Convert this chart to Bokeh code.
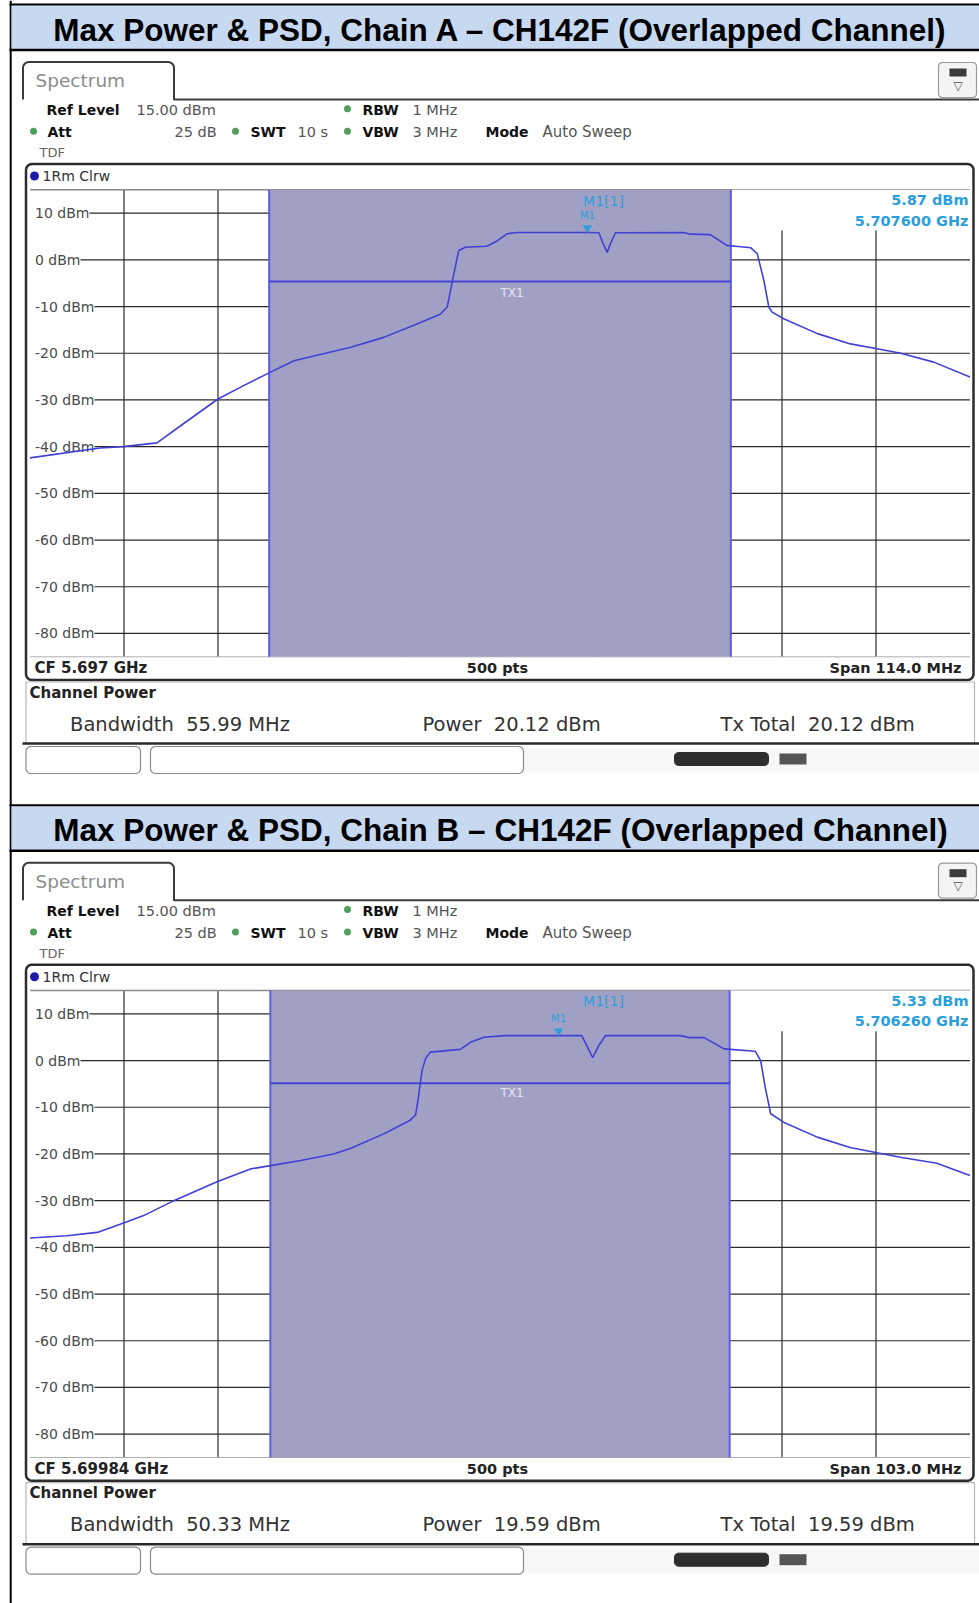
import numpy as np
from bokeh.plotting import figure
from bokeh.models import Range1d
from bokeh.core.properties import value
from bokeh.embed import file_html
from bokeh.resources import INLINE

# ---------------- data ----------------
TITLES = ["Max Power & PSD, Chain A \u2013 CH142F (Overlapped Channel)",
          "Max Power & PSD, Chain B \u2013 CH142F (Overlapped Channel)"]
REF_LEVEL = 15.0
BOTTOM_LEVEL = -85.0
Y_TICKS = [10, 0, -10, -20, -30, -40, -50, -60, -70, -80]
Y_TICK_LABELS = ["10 dBm", "0 dBm", "-10 dBm", "-20 dBm", "-30 dBm",
                 "-40 dBm", "-50 dBm", "-60 dBm", "-70 dBm", "-80 dBm"]
CF_MHZ = [5697.0, 5699.84]
SPAN_MHZ = [114.0, 103.0]
BW_MHZ = [55.99, 50.33]
TX_LEVEL = [-4.65, -4.86]
MARKER_FREQ = [5707.6, 5706.26]
MARKER_LEVEL = [5.87, 5.33]
CF_LABELS = ["CF 5.697 GHz", "CF 5.69984 GHz"]
SPAN_LABELS = ["Span 114.0 MHz", "Span 103.0 MHz"]
MARKER_LEVEL_LABELS = ["5.87 dBm", "5.33 dBm"]
MARKER_FREQ_LABELS = ["5.707600 GHz", "5.706260 GHz"]
BANDWIDTH_LABELS = ["55.99 MHz", "50.33 MHz"]
POWER_LABELS = ["20.12 dBm", "19.59 dBm"]
TOTAL_LABELS = ["20.12 dBm", "19.59 dBm"]

A_FREQ = [5640.0, 5648.5, 5651.3, 5655.4, 5658.6, 5662.8, 5665.5, 5669.0, 5672.0,
          5678.9, 5682.9, 5687.0, 5689.8, 5690.6, 5691.0, 5691.4, 5692.0, 5692.8,
          5695.4, 5696.7, 5697.9, 5699.1, 5707.6, 5709.0, 5709.5, 5710.0, 5710.4,
          5711.0, 5719.3, 5720.1, 5722.5, 5724.5, 5726.2, 5727.4, 5728.2, 5729.0,
          5729.6, 5730.0, 5731.4, 5735.5, 5739.5, 5742.9, 5745.6, 5749.6, 5754.0]
A_LEVEL = [-42.4, -40.3, -40.0, -39.2, -35.1, -29.8, -27.3, -24.2, -21.6,
           -18.7, -16.6, -13.7, -11.6, -10.1, -6.6, -3.0, 2.0, 2.7,
           2.9, 4.1, 5.6, 5.87, 5.87, 5.8, 3.5, 1.6, 3.5,
           5.8, 5.87, 5.5, 5.4, 3.1, 2.8, 2.6, 1.3, -4.4,
           -10.1, -11.2, -12.6, -15.8, -18.0, -19.1, -20.0, -21.9, -25.1]
B_FREQ = [5648.34, 5652.4, 5655.7, 5658.6, 5660.8, 5664.1, 5668.9, 5672.5, 5674.7,
          5678.0, 5681.6, 5683.5, 5687.1, 5690.0, 5690.6, 5690.9, 5691.3, 5691.7,
          5692.2, 5695.5, 5696.6, 5698.1, 5700.3, 5708.8, 5709.4, 5710.0, 5710.6,
          5711.4, 5719.6, 5720.7, 5722.2, 5724.4, 5727.8, 5728.4, 5728.9, 5729.5,
          5730.9, 5734.6, 5738.2, 5741.3, 5743.7, 5747.7, 5751.34]
B_LEVEL = [-38.0, -37.5, -36.8, -34.8, -33.2, -30.0, -25.9, -23.2, -22.5,
           -21.4, -20.0, -18.8, -15.7, -12.8, -11.6, -7.9, -2.1, 0.5,
           1.8, 2.4, 3.9, 5.0, 5.33, 5.33, 3.0, 0.6, 3.0,
           5.33, 5.33, 4.9, 4.9, 2.5, 2.0, 0.0, -5.7, -11.4,
           -13.2, -16.4, -18.6, -19.8, -20.7, -22.0, -24.6]
TRACES = [(A_FREQ, A_LEVEL), (B_FREQ, B_LEVEL)]

# ---------------- layout (reference pixel coordinates) ----------------
W, H = 979, 1603
X0, Y0 = 0, 0
PX_L, PX_R = 29.5, 969.5          # plot area left / right
PY_T, PY_H = 189.3, 467.0         # plot area top / height (panel A)
OFFS = [0.0, 800.7]               # vertical offset of each panel

p = figure(width=W, height=H, x_range=Range1d(X0, X0 + W), y_range=Range1d(Y0 + H, Y0),
           output_backend="svg", toolbar_location=None, min_border=0,
           x_axis_location=None, y_axis_location=None)
p.xgrid.visible = False
p.ygrid.visible = False
p.outline_line_color = None
p.background_fill_color = "white"
p.border_fill_color = "white"

DV = "DejaVu Sans"
NB = "\u00a0"


def txt(x, y, s, size, color="#222222", bold=False, align="left", font=DV, **kw):
    p.text(x=[x], y=[y], text=[s], text_font=value(font), text_font_size=f"{size}px",
           text_color=color, text_font_style="bold" if bold else "normal",
           text_align=align, text_baseline="middle", **kw)


def rr(x0, y0, x1, y1, r, open_bottom=False):
    xs, ys = [], []
    for cx, cy, a0, a1 in [(x0 + r, y0 + r, np.pi, 1.5 * np.pi),
                           (x1 - r, y0 + r, 1.5 * np.pi, 2 * np.pi),
                           (x1 - r, y1 - r, 0, 0.5 * np.pi),
                           (x0 + r, y1 - r, 0.5 * np.pi, np.pi)]:
        t = np.linspace(a0, a1, 8)
        xs += list(cx + r * np.cos(t))
        ys += list(cy + r * np.sin(t))
    if open_bottom:
        xs = [x0] + xs[:16] + [x1]
        ys = [y1] + ys[:16] + [y1]
    else:
        xs.append(xs[0]); ys.append(ys[0])
    return xs, ys


def rbox(x0, y0, x1, y1, r, line="#333333", lw=1.0, fill=None):
    xs, ys = rr(x0, y0, x1, y1, r)
    if fill is not None:
        p.patch(xs, ys, fill_color=fill, line_color=None)
    p.line(xs, ys, line_color=line, line_width=lw)


# page left border
p.segment(x0=[10.2], y0=[0], x1=[10.2], y1=[H], line_color="black", line_width=2)

for i in range(2):
    o = OFFS[i]
    # ---- title bar ----
    p.quad(left=[11], right=[980], top=[5 + o], bottom=[48.5 + o], fill_color="#c6d9f1",
           line_color=None)
    p.segment(x0=[9], y0=[4 + o], x1=[980], y1=[4 + o], line_color="black", line_width=2)
    p.segment(x0=[9], y0=[49.5 + o], x1=[980], y1=[49.5 + o], line_color="black", line_width=2.5)
    txt(500, 29 + o, TITLES[i], 31.5, color="black", bold=True, align="center",
        font="Liberation Sans")

    # ---- tab + header ----
    xs, ys = rr(22.5, 61.5 + o, 173.5, 99 + o, 6, open_bottom=True)
    xs = xs + [980]; ys = ys + [99 + o]
    p.line(xs, ys, line_color="#3a3a3a", line_width=2)
    txt(35, 80 + o, "Spectrum", 18.5, color="#8c8c8c")
    rbox(938, 62 + o, 976, 97 + o, 4, line="#9a9a9a", lw=1.2, fill="#f4f4f4")
    p.quad(left=[949], right=[966], top=[68 + o], bottom=[76 + o], fill_color="#3c3c3c",
           line_color=None)
    txt(957.5, 85 + o, "\u25bd", 12, color="#555555", align="center")

    hy1, hy2, hy3 = 109.3 + o, 131.8 + o, 152.3 + o
    txt(46, hy1, "Ref Level", 14, color="#111111", bold=True)
    txt(136, hy1, "15.00 dBm", 14.5, color="#555555")
    txt(362, hy1, "RBW", 14, color="#111111", bold=True)
    txt(412, hy1, "1 MHz", 14.5, color="#555555")
    txt(47, hy2, "Att", 14, color="#111111", bold=True)
    txt(174, hy2, "25 dB", 14.5, color="#555555")
    txt(250, hy2, "SWT", 14, color="#111111", bold=True)
    txt(297, hy2, "10 s", 14.5, color="#555555")
    txt(362, hy2, "VBW", 14, color="#111111", bold=True)
    txt(412, hy2, "3 MHz", 14.5, color="#555555")
    txt(485, hy2, "Mode", 14, color="#111111", bold=True)
    txt(542, hy2, "Auto Sweep", 15, color="#555555")
    txt(39, hy3, "TDF", 13, color="#666666")
    p.scatter(x=[347, 33, 235, 347], y=[hy1 - 1, hy2 - 1, hy2 - 1, hy2 - 1], size=7,
              marker="circle", fill_color="#4f9e5e", line_color=None)

    # ---- diagram box ----
    rbox(25.5, 163.5 + o, 973, 679.5 + o, 6, line="#2c2c2c", lw=2.5)
    p.scatter(x=[34], y=[175.5 + o], size=9, marker="circle", fill_color="#1c1ca8",
              line_color=None)
    txt(42, 175.5 + o, "1Rm Clrw", 14, color="#333333")

    # ---- spectrum with its own scales ----
    cf, span, bw = CF_MHZ[i], SPAN_MHZ[i], BW_MHZ[i]
    fs, fe = cf - span / 2, cf + span / 2
    k = span / (PX_R - PX_L)
    dpp = (REF_LEVEL - BOTTOM_LEVEL) / PY_H
    pyt = PY_T + o
    xr, yr = f"f{i}", f"d{i}"
    p.extra_x_ranges[xr] = Range1d(fs + (X0 - PX_L) * k, fs + (X0 + W - PX_L) * k)
    p.extra_y_ranges[yr] = Range1d(REF_LEVEL - (Y0 + H - pyt) * dpp, REF_LEVEL - (Y0 - pyt) * dpp)
    R = dict(x_range_name=xr, y_range_name=yr)

    vx = [fs + j * span / 10 for j in range(1, 10)]
    p.segment(x0=vx, y0=[BOTTOM_LEVEL] * 9, x1=vx, y1=[REF_LEVEL] * 9,
              line_color="#2a2a2a", line_width=1.2, **R)
    p.segment(x0=[fs] * len(Y_TICKS), y0=Y_TICKS, x1=[fe] * len(Y_TICKS), y1=Y_TICKS,
              line_color="#2a2a2a", line_width=1.2, **R)
    p.segment(x0=[fs], y0=[REF_LEVEL], x1=[fe], y1=[REF_LEVEL], line_color="#8a8a8a",
              line_width=1.5, **R)
    p.segment(x0=[fs], y0=[BOTTOM_LEVEL], x1=[fe], y1=[BOTTOM_LEVEL], line_color="#b0b0b0",
              line_width=1, **R)
    # clear strip at the left edge where the level labels start
    p.quad(left=[PX_L - 1], right=[35], top=[pyt + 2], bottom=[pyt + PY_H - 1],
           fill_color="white", line_color=None)
    p.text(x=[fs] * len(Y_TICKS), y=Y_TICKS, text=Y_TICK_LABELS, x_offset=5,
           text_font=value(DV), text_font_size="14px", text_color="#4a4a4a",
           text_baseline="middle", background_fill_color="white", **R)

    lo, hi = cf - bw / 2, cf + bw / 2
    p.quad(left=[lo], right=[hi], bottom=[BOTTOM_LEVEL], top=[REF_LEVEL],
           fill_color="#a0a0c4", line_color=None, **R)
    p.quad(left=[hi], right=[fe], bottom=[6.3], top=[REF_LEVEL],
           fill_color="white", line_color=None, **R)
    p.segment(x0=[lo, hi], y0=[BOTTOM_LEVEL] * 2, x1=[lo, hi], y1=[REF_LEVEL] * 2,
              line_color="#5c5ce8", line_width=2, **R)
    p.segment(x0=[lo], y0=[TX_LEVEL[i]], x1=[hi], y1=[TX_LEVEL[i]],
              line_color="#4444d4", line_width=2, **R)
    txt(500, 292 + o, "TX1", 12, color="#e6e6f2")

    fx, fy = TRACES[i]
    p.line(fx, fy, line_color="#4040d6", line_width=1.6, **R)

    mc = "#2b9fdc"
    p.scatter(x=[MARKER_FREQ[i]], y=[MARKER_LEVEL[i] + 1.0], marker="inverted_triangle",
              size=9, fill_color=mc, line_color=None, **R)
    p.text(x=[MARKER_FREQ[i]], y=[MARKER_LEVEL[i]], text=["M1"], y_offset=-17,
           text_font=value(DV), text_font_size="10px", text_color=mc, text_align="center",
           text_baseline="middle", **R)
    txt(603, 200 + o, "M1[1]", 14, color=mc, align="center")
    txt(968, 199.5 + o, MARKER_LEVEL_LABELS[i], 14.5, color=mc, bold=True, align="right")
    txt(968, 220 + o, MARKER_FREQ_LABELS[i], 14.5, color=mc, bold=True, align="right")

    # ---- bottom strip ----
    txt(34, 667.5 + o, CF_LABELS[i], 15, color="#222222", bold=True)
    txt(497, 667.5 + o, "500 pts", 14.5, color="#222222", bold=True, align="center")
    txt(961, 667.5 + o, SPAN_LABELS[i], 14.5, color="#222222", bold=True, align="right")

    # ---- channel power box ----
    p.line([25.5, 25.5, 974, 974], [743 + o, 681.5 + o, 681.5 + o, 743 + o],
           line_color="#b8b8b8", line_width=1.2)
    p.segment(x0=[22], y0=[743 + o], x1=[980], y1=[743 + o], line_color="#2a2a2a",
              line_width=2.5)
    txt(29, 692 + o, "Channel Power", 15, color="#222222", bold=True)
    txt(69.5, 723.5 + o, "Bandwidth " + NB + BANDWIDTH_LABELS[i], 19.5, color="#333333")
    txt(422, 723.5 + o, "Power " + NB + POWER_LABELS[i], 19.5, color="#333333")
    txt(720, 723.5 + o, "Tx Total " + NB + TOTAL_LABELS[i], 19.5, color="#333333")

    # ---- status bar ----
    p.quad(left=[523], right=[980], top=[748 + o], bottom=[772 + o], fill_color="#f7f7f7",
           line_color=None)
    rbox(25.5, 746 + o, 140, 773 + o, 5, line="#8a8a8a", lw=1.2, fill="white")
    rbox(150, 746 + o, 523, 773 + o, 5, line="#8a8a8a", lw=1.2, fill="white")
    rbox(674, 752 + o, 768, 765 + o, 4, line="#2a2a2a", lw=1, fill="#2e2e2e")
    p.quad(left=[779], right=[806], top=[753 + o], bottom=[764 + o], fill_color="#555555",
           line_color=None)

open("out.html", "w").write(file_html(p, INLINE))
